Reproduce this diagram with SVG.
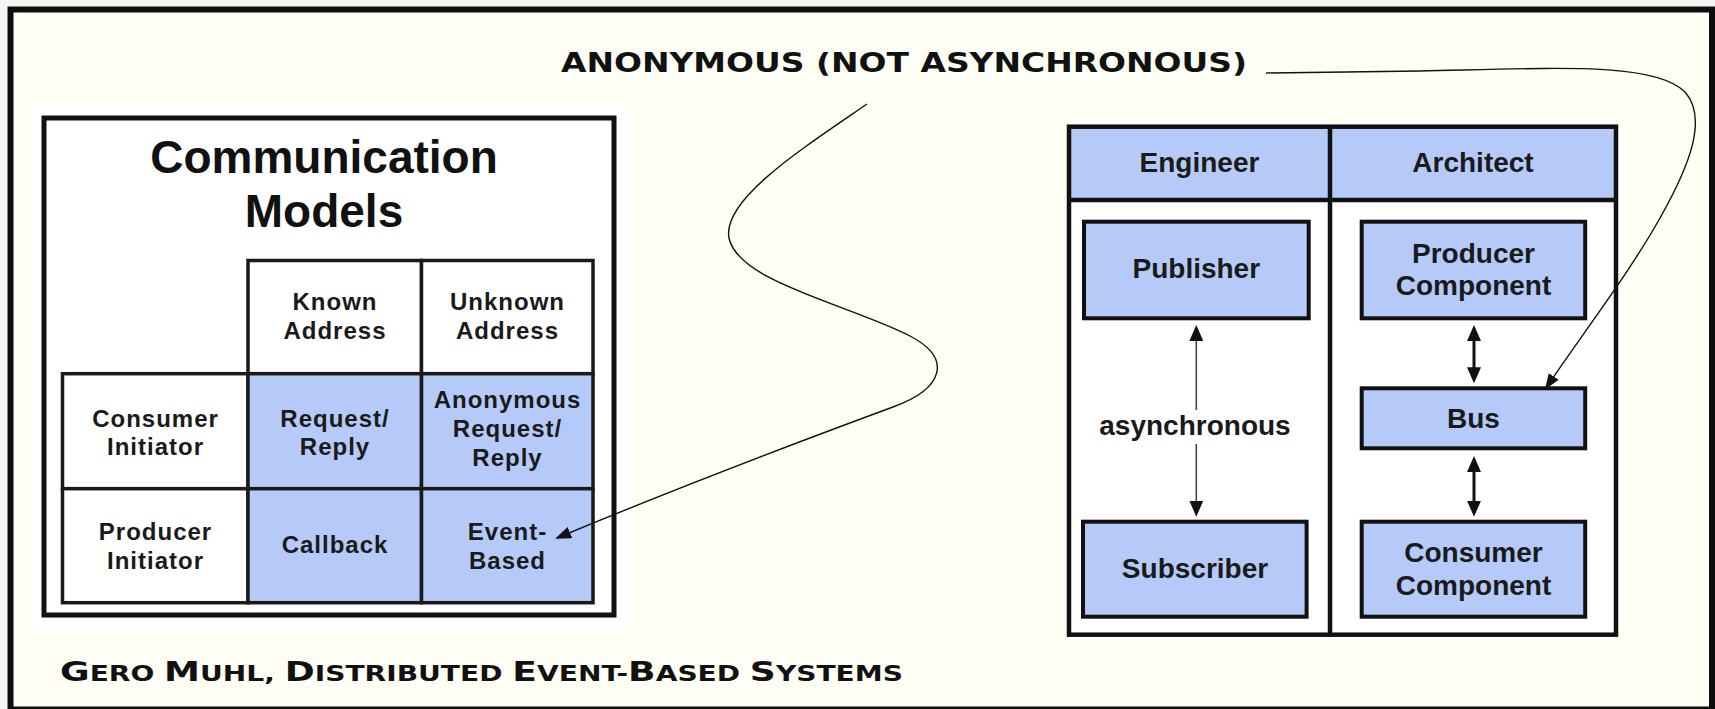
<svg xmlns="http://www.w3.org/2000/svg" width="1715" height="709" viewBox="0 0 1715 709">
  <style>
    .frame { fill: #FEFEF5; stroke: #0d0d0d; stroke-width: 6; }
    .panel { fill: #ffffff; stroke: #111; stroke-width: 5; }
    .cell { fill: #ffffff; stroke: #1a1a1a; stroke-width: 3.5; }
    .cell.blue { fill: #B5CAF8; }
    .box { fill: #B5CAF8; stroke: #111; stroke-width: 4; }
    .rule { stroke: #111; stroke-width: 4.5; fill: none; }
    .title { font-family: "Liberation Sans", Arial, sans-serif; font-weight: bold; font-size: 46px; fill: #111; text-anchor: middle; }
    .grid-txt { font-family: "Liberation Sans", Arial, sans-serif; font-weight: bold; font-size: 24px; letter-spacing: 1px; fill: #1a1a1a; text-anchor: middle; }
    .lbl { font-family: "Liberation Sans", Arial, sans-serif; font-weight: bold; font-size: 28px; fill: #1a1a1a; text-anchor: middle; }
    .caps { font-family: "DejaVu Sans", "Liberation Sans", sans-serif; font-weight: bold; fill: #111; }
    .curve { fill: none; stroke: #111; stroke-width: 1.4; }
    .dbl { stroke: #111; stroke-width: 3; fill: none; }
    .thin { stroke: #444; stroke-width: 1.6; fill: none; }
  </style>
  <defs>
    <marker id="head" viewBox="0 0 16 14" refX="8" refY="7" markerWidth="16" markerHeight="14" markerUnits="userSpaceOnUse" orient="auto-start-reverse">
      <path d="M0,0 L16,7 L0,14 z" fill="#111"/>
    </marker>
    <marker id="tip" viewBox="0 0 16 12" refX="14" refY="6" markerWidth="16" markerHeight="12" markerUnits="userSpaceOnUse" orient="auto">
      <path d="M0,0 L16,6 L0,12 z" fill="#111"/>
    </marker>
  </defs>

  <!-- page and outer frame -->
  <rect x="0" y="0" width="1715" height="709" fill="#f4f4f2"/>
  <rect class="frame" x="10.5" y="9.5" width="1701.5" height="700"/>

  <!-- caption at the top -->
  <g id="caption-top">
    <text class="caps" x="561" y="71.5" font-size="26" textLength="686" lengthAdjust="spacingAndGlyphs">ANONYMOUS (NOT ASYNCHRONOUS)</text>
  </g>

  <!-- communication models matrix -->
  <g id="models">
    <rect x="32" y="102" width="596" height="527" fill="#ffffff"/>
    <rect class="panel" x="44" y="118" width="570" height="497"/>
    <text class="title" x="324" y="172.5">Communication</text>
    <text class="title" x="324" y="226.5">Models</text>
  </g>

  <g id="cell-known">
    <rect class="cell" x="248" y="260.5" width="173.5" height="113.2"/>
    <text class="grid-txt" x="335" y="310">Known</text>
    <text class="grid-txt" x="335" y="339">Address</text>
  </g>
  <g id="cell-unknown">
    <rect class="cell" x="421.5" y="260.5" width="171.5" height="113.2"/>
    <text class="grid-txt" x="507.5" y="310">Unknown</text>
    <text class="grid-txt" x="507.5" y="339">Address</text>
  </g>
  <g id="cell-consumer">
    <rect class="cell" x="62.5" y="373.7" width="185.5" height="115"/>
    <text class="grid-txt" x="155.5" y="426.5">Consumer</text>
    <text class="grid-txt" x="155.5" y="455">Initiator</text>
  </g>
  <g id="cell-request-reply">
    <rect class="cell blue" x="248" y="373.7" width="173.5" height="115"/>
    <text class="grid-txt" x="335" y="426.5">Request/</text>
    <text class="grid-txt" x="335" y="455">Reply</text>
  </g>
  <g id="cell-anon-request-reply">
    <rect class="cell blue" x="421.5" y="373.7" width="171.5" height="115"/>
    <text class="grid-txt" x="507.5" y="408">Anonymous</text>
    <text class="grid-txt" x="507.5" y="437">Request/</text>
    <text class="grid-txt" x="507.5" y="466">Reply</text>
  </g>
  <g id="cell-producer">
    <rect class="cell" x="62.5" y="488.7" width="185.5" height="114"/>
    <text class="grid-txt" x="155.5" y="540">Producer</text>
    <text class="grid-txt" x="155.5" y="569">Initiator</text>
  </g>
  <g id="cell-callback">
    <rect class="cell blue" x="248" y="488.7" width="173.5" height="114"/>
    <text class="grid-txt" x="335" y="553">Callback</text>
  </g>
  <g id="cell-event-based">
    <rect class="cell blue" x="421.5" y="488.7" width="171.5" height="114"/>
    <text class="grid-txt" x="507.5" y="540">Event-</text>
    <text class="grid-txt" x="507.5" y="568.5">Based</text>
  </g>

  <!-- engineer / architect table -->
  <g id="roles">
    <rect x="1069" y="126.7" width="547" height="508" fill="#ffffff"/>
    <rect x="1069" y="126.7" width="547" height="73.3" fill="#B5CAF8"/>
    <line class="rule" x1="1069" y1="200" x2="1616" y2="200"/>
    <line class="rule" x1="1330" y1="126.7" x2="1330" y2="634.7"/>
    <rect class="rule" x="1069" y="126.7" width="547" height="508"/>
    <text class="lbl" x="1199.5" y="171.7">Engineer</text>
    <text class="lbl" x="1473" y="171.7">Architect</text>
  </g>

  <g id="publisher">
    <rect class="box" x="1084" y="221.7" width="224.7" height="96.6"/>
    <text class="lbl" x="1196.3" y="278.3">Publisher</text>
  </g>
  <g id="subscriber">
    <rect class="box" x="1083" y="521.7" width="223.6" height="95"/>
    <text class="lbl" x="1195" y="578.3">Subscriber</text>
  </g>
  <g id="producer-component">
    <rect class="box" x="1361.7" y="221.7" width="223.5" height="96.6"/>
    <text class="lbl" x="1473.5" y="263.3">Producer</text>
    <text class="lbl" x="1473.5" y="295">Component</text>
  </g>
  <g id="bus">
    <rect class="box" x="1361.7" y="388.3" width="223.5" height="60"/>
    <text class="lbl" x="1473.5" y="428.3">Bus</text>
  </g>
  <g id="consumer-component">
    <rect class="box" x="1361.7" y="521.7" width="223.5" height="95"/>
    <text class="lbl" x="1473.5" y="561.7">Consumer</text>
    <text class="lbl" x="1473.5" y="595">Component</text>
  </g>

  <!-- connectors -->
  <g id="connectors">
    <line class="thin" x1="1196.3" y1="333" x2="1196.3" y2="508.7" marker-start="url(#head)" marker-end="url(#head)"/>
    <rect x="1096" y="410" width="200" height="34" fill="#ffffff"/>
    <text class="lbl" x="1195" y="435">asynchronous</text>

    <line class="dbl" x1="1474" y1="333" x2="1474" y2="375.3" marker-start="url(#head)" marker-end="url(#head)"/>
    <line class="dbl" x1="1474" y1="464" x2="1474" y2="508.7" marker-start="url(#head)" marker-end="url(#head)"/>

    <path class="curve" d="M867,104 C800,150 722,200 729,238 C738,282 850,305 910,336 C952,358 945,388 893,407 C790,445 660,495 557,538" marker-end="url(#tip)"/>
    <path class="curve" d="M1266,73 L1420,71 C1560,68 1655,62 1685,92 C1708,118 1690,165 1660,218 C1630,272 1578,340 1546,388" marker-end="url(#tip)"/>
  </g>

  <!-- source line -->
  <g id="caption-source">
    <text class="caps" x="60" y="680.7" textLength="843" lengthAdjust="spacingAndGlyphs"><tspan font-size="27">G</tspan><tspan font-size="21">ERO </tspan><tspan font-size="27">M</tspan><tspan font-size="21">UHL, </tspan><tspan font-size="27">D</tspan><tspan font-size="21">ISTRIBUTED </tspan><tspan font-size="27">E</tspan><tspan font-size="21">VENT-</tspan><tspan font-size="27">B</tspan><tspan font-size="21">ASED </tspan><tspan font-size="27">S</tspan><tspan font-size="21">YSTEMS</tspan></text>
  </g>
</svg>
